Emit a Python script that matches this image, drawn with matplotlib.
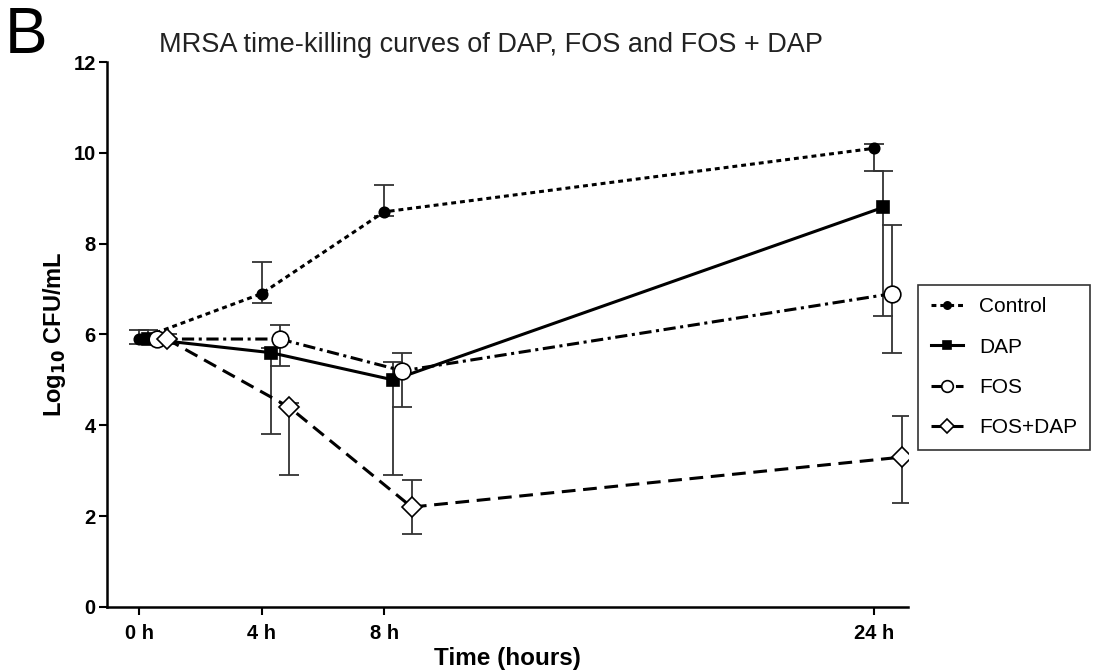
import matplotlib
matplotlib.use("Agg")
import matplotlib.pyplot as plt
import numpy as np

# sampling times (hours) and tick labels
times = [0, 4, 8, 24]
time_labels = ["0 h", "4 h", "8 h", "24 h"]

# log10 CFU/mL means with lower / upper error lengths
control = [5.9, 6.9, 8.7, 10.1]
control_lo = [0.1, 0.2, 0.1, 0.5]
control_hi = [0.2, 0.7, 0.6, 0.1]

dap = [5.9, 5.6, 5.0, 8.8]
dap_lo = [0.1, 1.8, 2.1, 2.4]
dap_hi = [0.2, 0.1, 0.4, 0.8]

fos = [5.9, 5.9, 5.2, 6.9]
fos_lo = [0.1, 0.6, 0.8, 1.3]
fos_hi = [0.1, 0.3, 0.4, 1.5]

fosdap = [5.9, 4.4, 2.2, 3.3]
fosdap_lo = [0.1, 1.5, 0.6, 1.0]
fosdap_hi = [0.1, 0.1, 0.6, 0.9]

series_names = ["Control", "DAP", "FOS", "FOS+DAP"]

# style per series: dodge offset (h), line dashes, marker, size, face
styles = {
    "Control": dict(dx=0.0, ls=(0, (1.6, 1.3)), marker="o", ms=7.5, mfc="black"),
    "DAP": dict(dx=0.3, ls="-", marker="s", ms=8, mfc="black"),
    "FOS": dict(dx=0.6, ls=(0, (4, 1.5, 1, 1.5)), marker="o", ms=12, mfc="white"),
    "FOS+DAP": dict(dx=0.9, ls=(0, (4.5, 2.5)), marker="D", ms=10, mfc="white"),
}

data = {
    "Control": (control, control_lo, control_hi),
    "DAP": (dap, dap_lo, dap_hi),
    "FOS": (fos, fos_lo, fos_hi),
    "FOS+DAP": (fosdap, fosdap_lo, fosdap_hi),
}

plt.rcParams["font.family"] = ["Liberation Sans", "DejaVu Sans"]

fig = plt.figure(figsize=(10.97, 6.71), dpi=100)
ax = fig.add_axes([0.0975, 0.0954, 0.73, 0.8122])

handles = []
for name in series_names:
    st = styles[name]
    vals, lo, hi = data[name]
    x = np.array(times) + st["dx"]
    ax.errorbar(x, vals, yerr=[lo, hi], fmt="none", ecolor="#333333",
                elinewidth=1.3, capsize=7, capthick=1.3, zorder=2)
    ln, = ax.plot(x, vals, color="black", lw=2.2, linestyle=st["ls"],
                  marker=st["marker"], ms=st["ms"], mfc=st["mfc"],
                  mec="black", mew=1.2, label=name, zorder=3)
    handles.append(ln)

ax.set_xlim(-1.05, 25.1)
ax.set_ylim(0, 12)
ax.set_yticks(np.arange(0, 13, 2))
ax.set_xticks(times)
ax.set_xticklabels(time_labels)
for lab in ax.get_xticklabels() + ax.get_yticklabels():
    lab.set_fontweight("bold")
    lab.set_fontsize(14.5)
ax.tick_params(direction="out", length=6, width=1.5)
ax.tick_params(axis="x", pad=6)
ax.tick_params(axis="y", pad=2)
for s in ["top", "right"]:
    ax.spines[s].set_visible(False)
for s in ["left", "bottom"]:
    ax.spines[s].set_linewidth(1.8)

ax.set_xlabel("Time (hours)", fontsize=17.5, fontweight="bold", labelpad=3)
ax.set_ylabel("Log$_{\\mathbf{10}}$ CFU/mL", fontsize=17, fontweight="bold", labelpad=4)

fig.text(0.4476, 1 - 45 / 671, "MRSA time-killing curves of DAP, FOS and FOS + DAP",
         fontsize=19.5, color="#222222", ha="center", va="center")
fig.text(0.004, 1 - 6 / 671, "B", fontsize=46, color="black", va="top")

leg = fig.legend(handles=handles, loc="upper left",
                 bbox_to_anchor=(918 / 1097, 1 - 285 / 671),
                 frameon=True, fancybox=False, edgecolor="black", fontsize=15,
                 handlelength=1.55, labelspacing=1.02, borderpad=0.6,
                 handletextpad=0.8, markerscale=0.7, borderaxespad=0)
leg.get_frame().set_linewidth(1.2)

fig.savefig("out.png", dpi=100)
